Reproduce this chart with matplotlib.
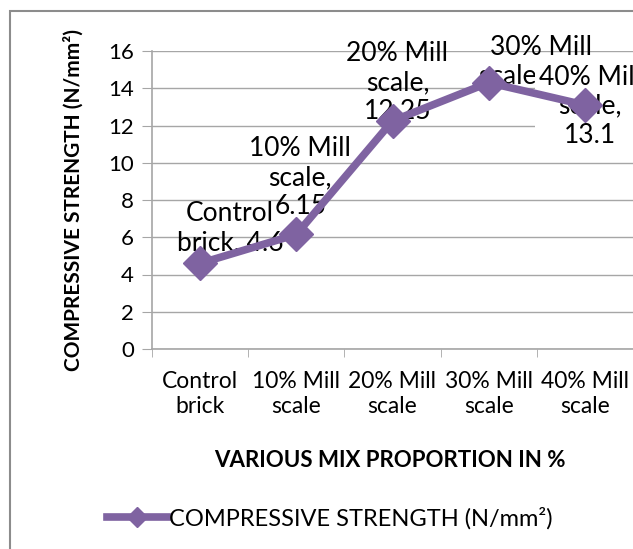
import matplotlib
matplotlib.use("Agg")
import matplotlib.pyplot as plt
from matplotlib.patches import Rectangle

categories = ["Control\nbrick", "10% Mill\nscale", "20% Mill\nscale", "30% Mill\nscale", "40% Mill\nscale"]
strength = [4.6, 6.15, 12.25, 14.3, 13.1]
point_labels = ["Control\nbrick, 4.6", "10% Mill\nscale,\n6.15", "20% Mill\nscale,\n12.25",
                "30% Mill\nscale, 14.3", "40% Mill\nscale,\n13.1"]
label_offsets = [(30, 35), (4, 57), (5, 38), (52, 21), (5, -1)]

purple = "#7F63A1"
grid_grey = "#A6A6A6"
plt.rcParams["font.family"] = ["Lato", "DejaVu Sans"]

fig = plt.figure(figsize=(6.33, 5.49), dpi=100)
fig.patches.append(Rectangle((10 / 633, -0.1), 1.2, 1 - 11 / 549 + 0.1, transform=fig.transFigure,
                             fill=False, edgecolor="#8C8C8C", linewidth=1.5))
ax = fig.add_axes([152 / 633, 200 / 549, 481 / 633, 298 / 549])

x = list(range(len(categories)))
ax.plot(x, strength, color=purple, linewidth=5.5, marker="D", markersize=17,
        label="COMPRESSIVE STRENGTH (N/mm²)", zorder=3, clip_on=False)

ax.set_xlim(-0.5, len(categories) - 0.5)
ax.set_ylim(0, 16)
ax.set_yticks(range(0, 17, 2))
ax.set_xticks(x)
ax.set_xticklabels(categories, fontsize=16.5, linespacing=1.25)
ax.set_xticks([i - 0.5 for i in range(len(categories) + 1)], minor=True)
ax.tick_params(axis="x", which="major", length=0, pad=16)
ax.tick_params(axis="x", which="minor", length=6, color=grid_grey, direction="out")
ax.tick_params(axis="y", labelsize=16, length=7, color=grid_grey, pad=6)
ax.grid(axis="y", color=grid_grey, linewidth=1)
ax.set_axisbelow(True)
for side in ["top", "right"]:
    ax.spines[side].set_visible(False)
for side in ["left", "bottom"]:
    ax.spines[side].set_color(grid_grey)
    ax.spines[side].set_linewidth(1.2)

# the last label sits on a white box, hiding the end of the 30% label like in the original
for i, (txt, off) in enumerate(zip(point_labels, label_offsets)):
    bbox = dict(facecolor="white", edgecolor="none", pad=3) if i == 4 else None
    ax.annotate(txt, (x[i], strength[i]), xytext=off, textcoords="offset pixels",
                ha="center", va="center", fontsize=19, linespacing=1.2,
                annotation_clip=False, bbox=bbox, zorder=2.5)

ax.set_ylabel("COMPRESSIVE STRENGTH (N/mm²)", fontsize=15, fontweight="bold")
ax.yaxis.set_label_coords(-0.143, 0.5)
ax.set_xlabel("VARIOUS MIX PROPORTION IN %", fontsize=16, fontweight="bold")
ax.xaxis.set_label_coords(0.495, -0.339)

fig.legend(loc="center", bbox_to_anchor=(330 / 633, 1 - 518 / 549), frameon=False,
           fontsize=17, handlelength=2.5, handletextpad=0.1, markerscale=0.6)

fig.savefig("out.png", dpi=100)
